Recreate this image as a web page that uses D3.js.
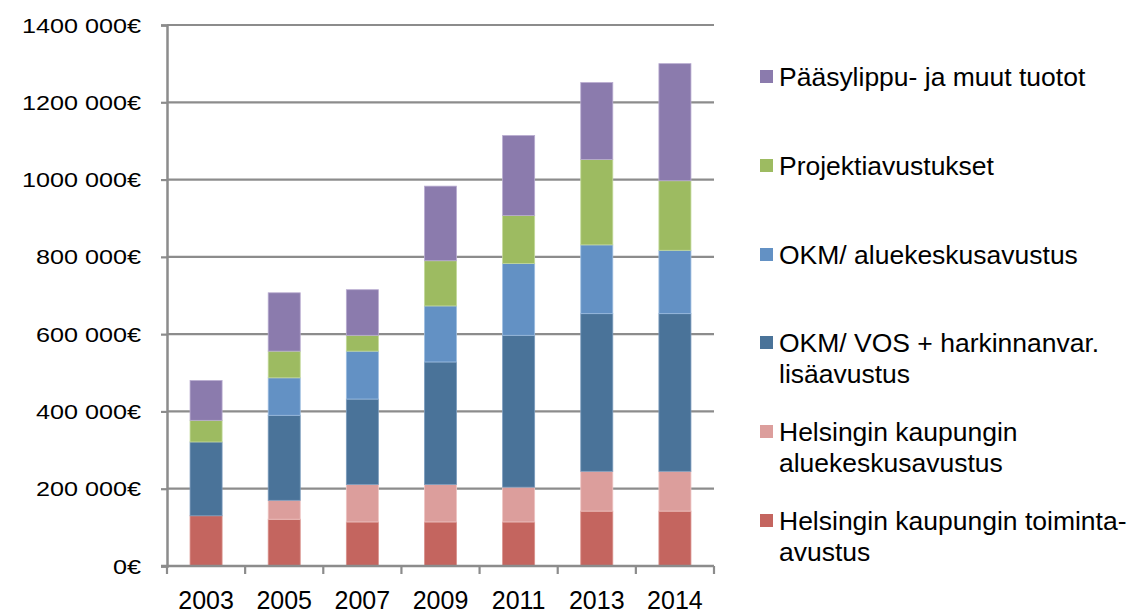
<!DOCTYPE html>
<html>
<head>
<meta charset="utf-8">
<script src="https://cdn.jsdelivr.net/npm/d3@7"></script>
<style>
  html, body { margin: 0; padding: 0; background: #fff; }
  text { font-family: Arial, "Liberation Sans", sans-serif; fill: #000; }
</style>
</head>
<body>
<svg id="chart" width="1134" height="614"></svg>
<script>
const years = ["2003", "2005", "2007", "2009", "2011", "2013", "2014"];
const seriesNames = [
  "Helsingin kaupungin toiminta-avustus",
  "Helsingin kaupungin aluekeskusavustus",
  "OKM/ VOS + harkinnanvar. lisäavustus",
  "OKM/ aluekeskusavustus",
  "Projektiavustukset",
  "Pääsylippu- ja muut tuotot"
];
const legendLines = [
  ["Helsingin kaupungin toiminta-", "avustus"],
  ["Helsingin kaupungin", "aluekeskusavustus"],
  ["OKM/ VOS + harkinnanvar.", "lisäavustus"],
  ["OKM/ aluekeskusavustus"],
  ["Projektiavustukset"],
  ["Pääsylippu- ja muut tuotot"]
];
const helsinkiToiminta = [130000, 121000, 114000, 114000, 114000, 142000, 142000];
const helsinkiAlue     = [0, 49000, 97000, 97000, 90000, 103000, 103000];
const okmVos           = [191000, 220000, 221000, 317000, 393000, 408000, 408000];
const okmAlue          = [0, 97000, 124000, 145000, 186000, 178000, 164000];
const projekti         = [56000, 69000, 41000, 117000, 124000, 221000, 180000];
const paasylippu       = [103000, 151000, 118000, 193000, 207000, 199000, 303000];
const yTicks = [0, 200000, 400000, 600000, 800000, 1000000, 1200000, 1400000];
const yTickLabels = ["0€", "200 000€", "400 000€", "600 000€", "800 000€", "1000 000€", "1200 000€", "1400 000€"];
const colors = ["#c4655f", "#dc9e9c", "#4a7399", "#6391c4", "#9dbb61", "#8b7bad"];
const strokes = ["#d9918c", "#eec4c2", "#7c9cbd", "#9dbde0", "#c3d99a", "#b8abd0"];

const seriesValues = [helsinkiToiminta, helsinkiAlue, okmVos, okmAlue, projekti, paasylippu];
const table = years.map((yr, i) => {
  const row = { year: yr };
  seriesNames.forEach((s, j) => row[s] = seriesValues[j][i]);
  return row;
});

const svg = d3.select("#chart");
const pLeft = 167, pRight = 714, pTop = 25, pBottom = 566;

const x = d3.scaleBand().domain(years).range([pLeft, pRight]).paddingInner(0.59).paddingOuter(0.295);
const y = d3.scaleLinear().domain([0, 1400000]).range([pBottom, pTop]);

// gridlines
svg.append("g").selectAll("line").data(yTicks.filter(d => d > 0)).join("line")
  .attr("x1", pLeft).attr("x2", pRight)
  .attr("y1", d => y(d)).attr("y2", d => y(d))
  .attr("stroke", "#8c8c8c").attr("stroke-width", 2.2);

// bars
const stack = d3.stack().keys(seriesNames)(table);
svg.append("g").selectAll("g").data(stack).join("g")
  .attr("fill", (d, i) => colors[i])
  .attr("stroke", (d, i) => strokes[i])
  .attr("stroke-width", 0.8)
  .selectAll("rect").data(d => d.filter(p => p[1] - p[0] > 0)).join("rect")
  .attr("x", d => x(d.data.year))
  .attr("width", x.bandwidth())
  .attr("y", d => y(d[1]))
  .attr("height", d => y(d[0]) - y(d[1]));

// y axis
const yAxis = svg.append("g").attr("transform", `translate(${pLeft},0)`)
  .call(d3.axisLeft(y).tickValues(yTicks).tickSize(6).tickFormat(""));
yAxis.select(".domain").attr("stroke", "#8c8c8c").attr("stroke-width", 2.5);
yAxis.selectAll(".tick line").attr("stroke", "#8c8c8c").attr("stroke-width", 2.2);

// y labels (slightly stretched horizontally like the original)
svg.append("g").selectAll("text").data(yTicks).join("text")
  .attr("transform", d => `translate(141,${y(d) + 7.5}) scale(1.2,1)`)
  .attr("text-anchor", "end")
  .attr("font-size", 21)
  .text((d, i) => yTickLabels[i]);

// x axis
const xAxis = svg.append("g").attr("transform", `translate(0,${pBottom})`);
xAxis.append("line").attr("x1", pLeft - 6).attr("x2", pRight)
  .attr("stroke", "#8c8c8c").attr("stroke-width", 2.5);
const boundaries = years.map(d => x(d) - x.step() * x.paddingInner() / 2).concat([pRight]);
xAxis.selectAll("line.tk").data(boundaries).join("line").attr("class", "tk")
  .attr("x1", d => d).attr("x2", d => d).attr("y1", 0).attr("y2", 8)
  .attr("stroke", "#8c8c8c").attr("stroke-width", 2.2);
xAxis.selectAll("text").data(years).join("text")
  .attr("x", d => x(d) + x.bandwidth() / 2)
  .attr("y", 43)
  .attr("text-anchor", "middle")
  .attr("font-size", 25)
  .text(d => d);

// legend (top = last series)
const legendOrder = [5, 4, 3, 2, 1, 0];
const baselines = [86, 175, 264, 352, 441, 530];
const lg = svg.append("g");
legendOrder.forEach((si, k) => {
  const b = baselines[k];
  lg.append("rect").attr("x", 760).attr("y", b - 16).attr("width", 13).attr("height", 13)
    .attr("fill", colors[si]);
  const t = lg.append("text")
    .attr("transform", `translate(779,${b}) scale(1.06,1)`)
    .attr("font-size", 25);
  legendLines[si].forEach((ln, li) => {
    t.append("tspan").attr("x", 0).attr("y", li * 31).text(ln);
  });
});
</script>
</body>
</html>
